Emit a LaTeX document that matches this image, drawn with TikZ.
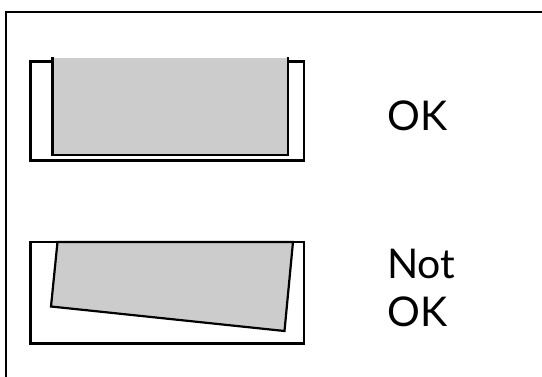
\documentclass[tikz,border=0pt]{standalone}
\usepackage{fontspec}
\setmainfont{Lato}
\definecolor{sheet}{RGB}{204,204,204}
\begin{document}
\begin{tikzpicture}[x=1pt, y=-1pt,
  holder/.style={draw=black, line width=2.2pt},
  plate/.style={fill=sheet, draw=black, line width=2.2pt, line join=miter},
  verdict/.style={anchor=base west, inner sep=0pt, font=\fontsize{41}{48}\selectfont, align=left}
]
\useasboundingbox (0,0) rectangle (542,377);
% frame, open on the right and at the bottom
\draw[line width=1.4pt] (6,377) -- (6,12) -- (542,12);

% good fit
\draw[holder] (30.5,61.5) rectangle (304,160.5);
\fill[sheet] (52.5,58.5) rectangle (288,155);
\draw[line width=2.2pt] (52.5,57.5) -- (52.5,155) -- (288,155) -- (288,57.5);
\node[verdict] (ok) at (387,131) {OK};

% bad fit
\draw[holder] (30.5,242) rectangle (304,343.5);
\draw[plate] (57.5,242) -- (293,242) -- (284.5,331) -- (51,306.5) -- cycle;
\node[verdict] (notok) at (387,279) {Not};
\node[verdict] (notok2) at (387,327) {OK};
\end{tikzpicture}
\end{document}
